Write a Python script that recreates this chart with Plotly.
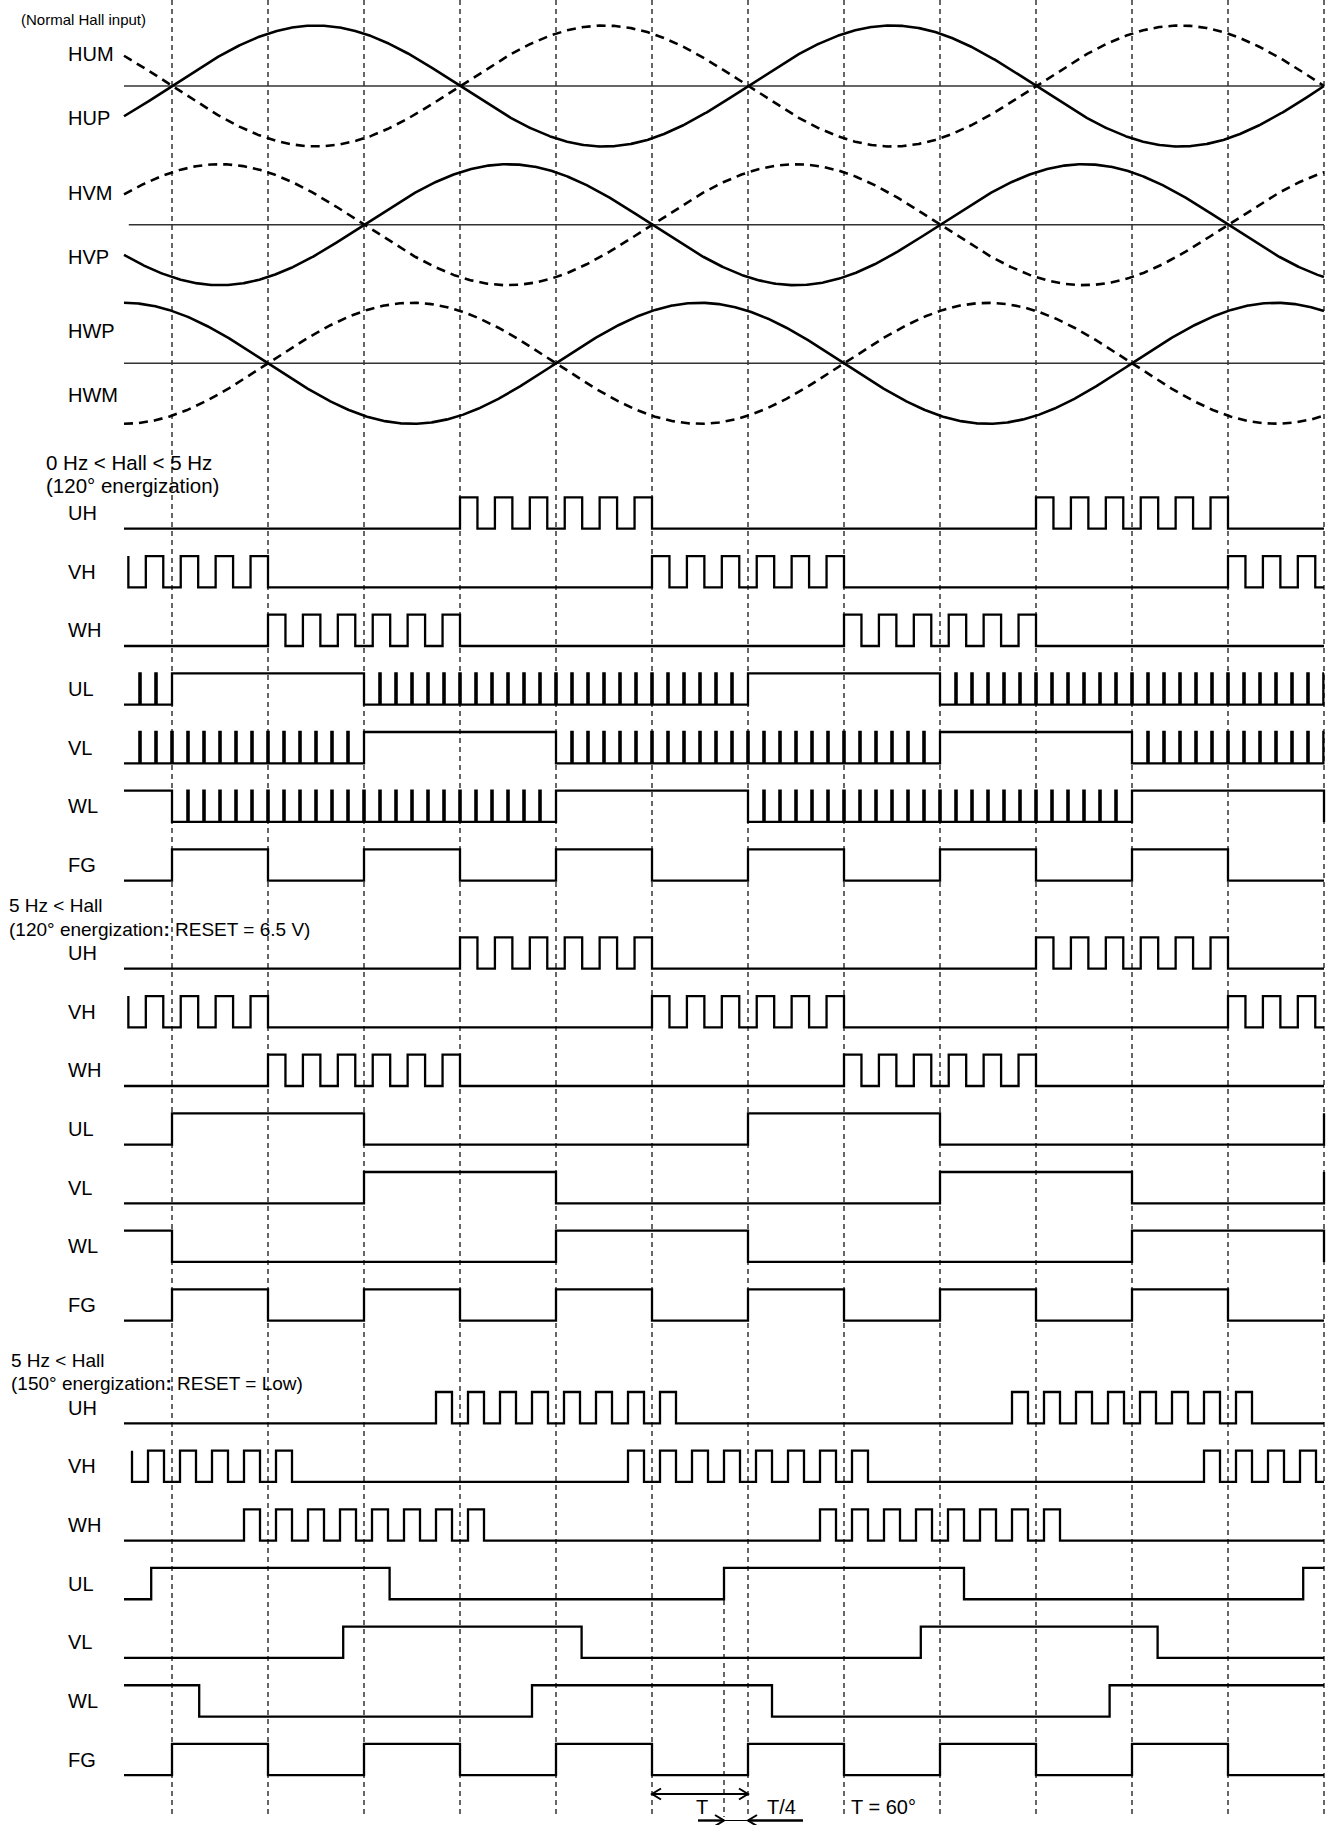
import numpy as np
import plotly.graph_objects as go

# ---------------- data (electrical degrees) ----------------
T_START, T_END = -30, 720
GRID_DEG = [0, 60, 120, 180, 240, 300, 360, 420, 480, 540, 600, 660, 720]
EXTRA_GRID_DEG = 345          # T/4 marker line (bottom section only)

HALL_LABELS = [["HUM", "HUP"], ["HVM", "HVP"], ["HWP", "HWM"]]
HALL_PHASE = [0, 120, 240]     # rising zero crossing of the P signal
HALL_REF_START = [-30, -27, -30]

FG_HIGH = [(0, 60), (120, 180), (240, 300), (360, 420), (480, 540), (600, 660)]

# 0 Hz < Hall < 5 Hz (120 deg energization)
S1_UH = [(180, 300), (540, 660)]
S1_VH = [(-60, 60), (300, 420), (660, 780)]
S1_WH = [(60, 180), (420, 540)]
S1_UL = [(0, 120), (360, 480)]
S1_VL = [(120, 240), (480, 600)]
S1_WL = [(-60, 0), (240, 360), (600, 720)]
PWM120_PULSES = 6
CHOP_STEP = 10

# 5 Hz < Hall (120 deg energization, RESET = 6.5 V)
S2_UL = [(0, 120), (360, 480), (720, 780)]
S2_VL = [(120, 240), (480, 600), (720, 780)]
S2_WL = [(-60, 0), (240, 360), (600, 720)]

# 5 Hz < Hall (150 deg energization, RESET = Low)
S3_UH = [(165, 315), (525, 675)]
S3_VH = [(-75, 75), (285, 435), (645, 795)]
S3_WH = [(45, 195), (405, 555)]
S3_UL = [(-13, 136), (345, 495), (707, 780)]
S3_VL = [(107, 256), (468, 616)]
S3_WL = [(-60, 17), (225, 375), (586, 780)]
PWM150_PULSES = 8

ROW_LABELS = ["UH", "VH", "WH", "UL", "VL", "WL", "FG"]

# ---------------- layout constants (pixels) ----------------
W, H = 1330, 1825
X0_PX, PX_PER_DEG = 172.0, 1.6
HALL_CENTER = [86, 224.7, 363.3]
HALL_AMP = 60.5
SEC_BASE = [528.7, 968.7, 1423.3]   # low level of first row in each section
ROW_PITCH = 58.65
AMP = 31.3
LW = 2.3
FONT = "Arial, Liberation Sans, sans-serif"


def deg2px(d):
    return X0_PX + PX_PER_DEG * d


def px2deg(p):
    return (p - X0_PX) / PX_PER_DEG


fig = go.Figure()


def add_line(x, y, width=LW, dash=None, color="black"):
    fig.add_trace(go.Scatter(x=x, y=y, mode="lines", hoverinfo="skip",
                             line=dict(color=color, width=width, dash=dash),
                             showlegend=False))


def is_high(t, wins):
    return any(a <= t < b for a, b in wins)


def step_points(wins, base, trim_start=False):
    edges = sorted({e for a, b in wins for e in (a, b) if T_START < e <= T_END})
    starts = [a for a, b in wins]
    lvl = is_high(T_START, wins)
    xs, ys = [T_START], [base - AMP * lvl]
    for e in edges:
        if e == T_END:
            new = 1 if e in starts else 0
        else:
            new = is_high(e, wins)
        if new == lvl:
            continue
        xs += [e, e]
        ys += [base - AMP * lvl, base - AMP * new]
        lvl = new
    if xs[-1] != T_END:
        xs.append(T_END)
        ys.append(base - AMP * lvl)
    if trim_start and len(xs) > 2 and ys[0] == ys[1] and xs[1] - xs[0] < 6:
        xs, ys = xs[1:], ys[1:]
    return xs, ys


def pwm_windows(wins, n):
    out = []
    for a, b in wins:
        w = (b - a) / (2 * n - 1)
        for k in range(n):
            out.append((a + 2 * k * w, a + 2 * k * w + w))
    return out


def chop_windows(high_wins, spike_w=0.8):
    """high windows + narrow spikes every CHOP_STEP degrees in the gaps"""
    out = list(high_wins)
    for t in range(T_START + CHOP_STEP, T_END + 1, CHOP_STEP):
        if not any(a <= t <= b for a, b in high_wins):
            out.append((t - spike_w / 2, t + spike_w / 2))
    return out


# ---------------- vertical dashed grid ----------------
for g in GRID_DEG:
    add_line([g, g], [0, 1817], width=1.2, dash="5px,4px")
add_line([EXTRA_GRID_DEG, EXTRA_GRID_DEG], [1600, 1817], width=1.2, dash="5px,4px")

# ---------------- Hall signals ----------------
theta = np.linspace(T_START, T_END, 1501)
for i, ph in enumerate(HALL_PHASE):
    c = HALL_CENTER[i]
    add_line([HALL_REF_START[i], T_END], [c, c], width=1.4, color="#333")
    p = np.sin(np.radians(theta - ph))
    add_line(theta, c - HALL_AMP * p, width=2.6)
    add_line(theta, c + HALL_AMP * p, width=2.6, dash="9px,6px")

# ---------------- digital sections ----------------
sections = [
    [pwm_windows(S1_UH, PWM120_PULSES), pwm_windows(S1_VH, PWM120_PULSES),
     pwm_windows(S1_WH, PWM120_PULSES), chop_windows(S1_UL), chop_windows(S1_VL),
     chop_windows(S1_WL), FG_HIGH],
    [pwm_windows(S1_UH, PWM120_PULSES), pwm_windows(S1_VH, PWM120_PULSES),
     pwm_windows(S1_WH, PWM120_PULSES), S2_UL, S2_VL, S2_WL, FG_HIGH],
    [pwm_windows(S3_UH, PWM150_PULSES), pwm_windows(S3_VH, PWM150_PULSES),
     pwm_windows(S3_WH, PWM150_PULSES), S3_UL, S3_VL, S3_WL, FG_HIGH],
]

annotations = []


def text(px, py, s, size=20, anchor="left"):
    annotations.append(dict(x=px / W, xref="paper", y=py, yref="y", text=s,
                            showarrow=False, xanchor=anchor, yanchor="middle",
                            font=dict(family=FONT, size=size, color="black")))


for si, rows in enumerate(sections):
    for ri, wins in enumerate(rows):
        base = SEC_BASE[si] + ri * ROW_PITCH
        xs, ys = step_points(wins, base, trim_start=(ri < 3))
        add_line(xs, ys)
        text(66, base - AMP / 2, ROW_LABELS[ri])

# Hall labels
for i in range(3):
    text(66, HALL_CENTER[i] - 32, HALL_LABELS[i][0])
    text(66, HALL_CENTER[i] + 32, HALL_LABELS[i][1])

text(19, 19, "(Normal Hall input)", size=15)
text(44, 462, "0 Hz &lt; Hall &lt; 5 Hz", size=20.5)
text(44, 485, "(120° energization)", size=20.5)
text(7, 905, "5 Hz &lt; Hall", size=19)
text(7, 929, "(120° energization<b>:</b> RESET = 6.5 V)", size=19)
text(9, 1360, "5 Hz &lt; Hall", size=19)
text(9, 1383, "(150° energization<b>:</b> RESET = Low)", size=19)

# ---------------- T annotation ----------------
Y_T, Y_T4 = 1794, 1820.5
HD, HV = 9 / PX_PER_DEG, 5.5
add_line([300, 360], [Y_T, Y_T], width=2)
add_line([300 + HD, 300, 300 + HD], [Y_T - HV, Y_T, Y_T + HV], width=2)
add_line([360 - HD, 360, 360 - HD], [Y_T - HV, Y_T, Y_T + HV], width=2)
add_line([px2deg(698), EXTRA_GRID_DEG], [Y_T4, Y_T4], width=2.4)
add_line([EXTRA_GRID_DEG - HD, EXTRA_GRID_DEG, EXTRA_GRID_DEG - HD],
         [Y_T4 - HV, Y_T4, Y_T4 + HV], width=2)
add_line([EXTRA_GRID_DEG, 360], [Y_T4, Y_T4], width=1)
add_line([360, px2deg(803)], [Y_T4, Y_T4], width=2.4)
add_line([360 + HD, 360, 360 + HD], [Y_T4 - HV, Y_T4, Y_T4 + HV], width=2)
text(702, 1807, "T", size=20, anchor="center")
text(782, 1807, "T/4", size=20, anchor="center")
text(849, 1807, "T = 60°", size=20)

fig.update_layout(
    width=W, height=H, autosize=False,
    margin=dict(l=0, r=0, t=0, b=0),
    paper_bgcolor="white", plot_bgcolor="white",
    xaxis=dict(range=[px2deg(0), px2deg(W)], visible=False, fixedrange=True),
    yaxis=dict(range=[H, 0], visible=False, fixedrange=True),
    annotations=annotations,
    showlegend=False,
)

fig.write_html("out.html", config={"displayModeBar": False},
               post_script="document.body.style.margin='0';")
